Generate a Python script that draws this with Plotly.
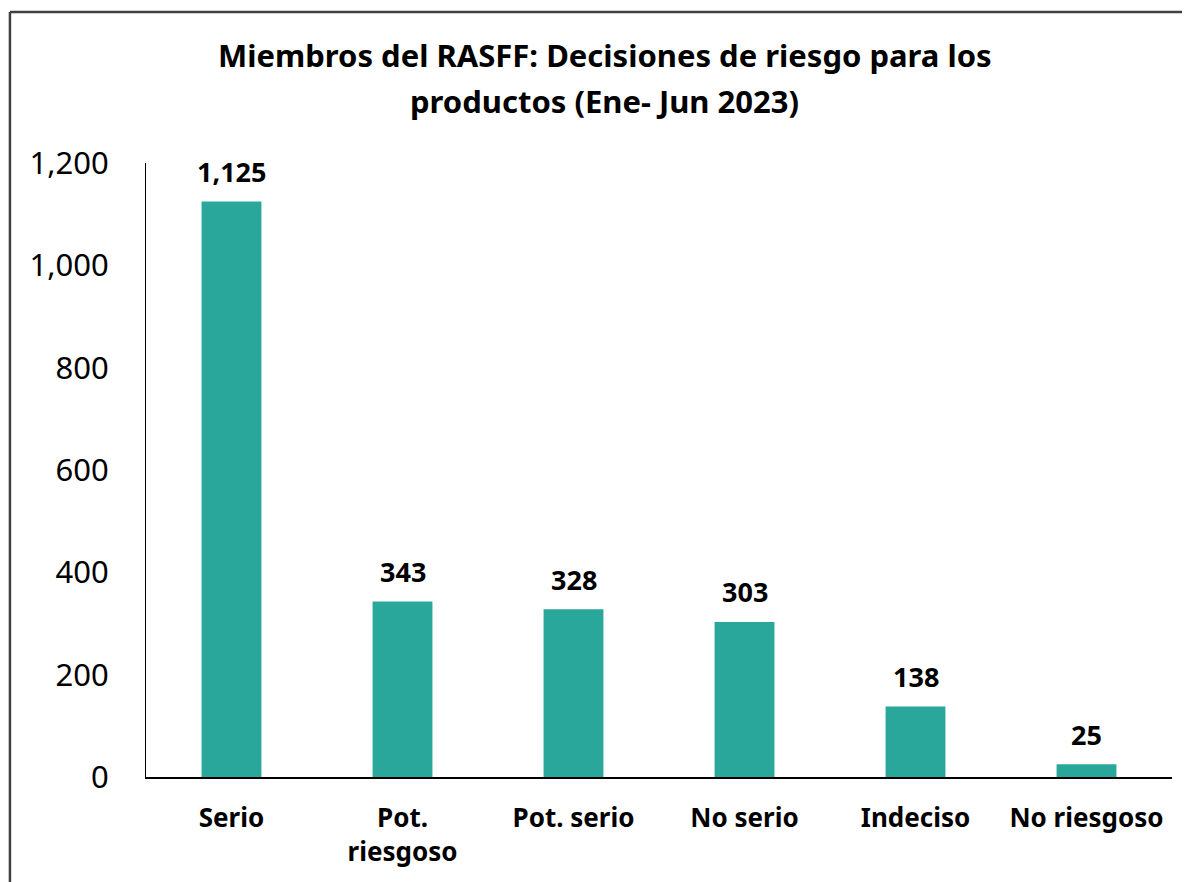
import plotly.graph_objects as go

# datos
categorias = ["Serio", "Pot.<br>riesgoso", "Pot. serio", "No serio", "Indeciso", "No riesgoso"]
valores = [1125, 343, 328, 303, 138, 25]
etiquetas = [f"{v:,}" for v in valores]
titulo = ["Miembros del RASFF: Decisiones de riesgo para los", "productos (Ene- Jun 2023)"]

fuente = "Noto Sans"

fig = go.Figure()
fig.add_trace(go.Bar(
    x=categorias,
    y=valores,
    marker=dict(color="#29A79A", line=dict(width=0)),
    width=0.35,
))

# etiquetas de datos encima de cada barra
for cat, val, txt in zip(categorias, valores, etiquetas):
    fig.add_annotation(
        x=cat, y=val, text=txt, showarrow=False,
        yanchor="middle", yshift=30,
        font=dict(family=fuente, size=27, color="black", weight="bold"),
    )

# título en dos líneas
for linea, ypos in zip(titulo, [1.1755, 1.1015]):
    fig.add_annotation(
        xref="paper", yref="paper", x=0.447, y=ypos, text=linea,
        showarrow=False, xanchor="center", yanchor="middle",
        font=dict(family=fuente, size=31, color="black", weight="bold"),
    )

fig.update_layout(
    width=1182, height=874,
    margin=dict(l=138, r=18, t=155, b=105),
    paper_bgcolor="white", plot_bgcolor="white",
    showlegend=False,
    xaxis=dict(
        showline=True, linecolor="black", linewidth=1.5,
        ticks="", ticklabelstandoff=17,
        tickfont=dict(family=fuente, size=26, color="black", weight="bold"),
    ),
    yaxis=dict(
        range=[0, 1200], dtick=200, tickformat=",",
        showline=True, linecolor="black", linewidth=1,
        showgrid=False, zeroline=False, ticks="",
        ticklabelstandoff=30,
        tickfont=dict(family=fuente, size=31, color="black"),
    ),
    bargap=0.65,
)

# marco del gráfico (solo bordes superior e izquierdo visibles)
fig.add_shape(type="line", xref="paper", yref="paper",
              x0=-0.1326, x1=1.1, y0=1.246, y1=1.246,
              line=dict(color="#404040", width=2.5))
fig.add_shape(type="line", xref="paper", yref="paper",
              x0=-0.1326, x1=-0.1326, y0=-0.3, y1=1.246,
              line=dict(color="#404040", width=2.5))

fig.write_html("out.html")
